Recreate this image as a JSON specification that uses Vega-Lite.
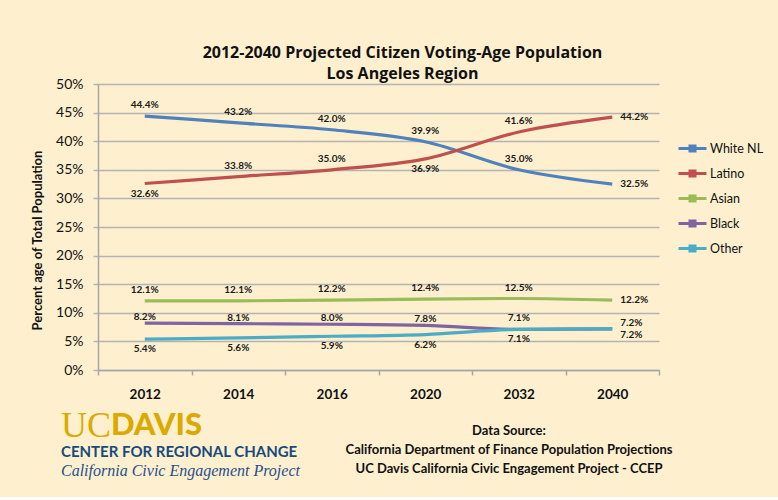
{
  "$schema": "https://vega.github.io/schema/vega-lite/v6.json",
  "background": "#fef0cf",
  "padding": {"left": 31, "top": 45, "right": 18, "bottom": 18},
  "spacing": 7,
  "config": {
    "font": "Lato",
    "view": {"stroke": null},
    "legend": {"padding": 0}
  },
  "vconcat": [
    {
      "title": {
        "text": ["2012-2040 Projected Citizen Voting-Age Population", "Los Angeles Region"],
        "font": "Open Sans", "fontSize": 16, "fontWeight": "bold", "color": "#111111",
        "anchor": "middle", "frame": "group", "dx": 24, "lineHeight": 21, "offset": -5
      },
      "width": 561,
      "height": 286,
      "data": {"values": [
        {"series": "White NL", "year": "2012", "share": 0.444},
        {"series": "White NL", "year": "2014", "share": 0.432},
        {"series": "White NL", "year": "2016", "share": 0.420},
        {"series": "White NL", "year": "2020", "share": 0.399},
        {"series": "White NL", "year": "2032", "share": 0.350},
        {"series": "White NL", "year": "2040", "share": 0.325},
        {"series": "Latino", "year": "2012", "share": 0.326},
        {"series": "Latino", "year": "2014", "share": 0.338},
        {"series": "Latino", "year": "2016", "share": 0.350},
        {"series": "Latino", "year": "2020", "share": 0.369},
        {"series": "Latino", "year": "2032", "share": 0.416},
        {"series": "Latino", "year": "2040", "share": 0.442},
        {"series": "Asian", "year": "2012", "share": 0.121},
        {"series": "Asian", "year": "2014", "share": 0.121},
        {"series": "Asian", "year": "2016", "share": 0.122},
        {"series": "Asian", "year": "2020", "share": 0.124},
        {"series": "Asian", "year": "2032", "share": 0.125},
        {"series": "Asian", "year": "2040", "share": 0.122},
        {"series": "Black", "year": "2012", "share": 0.082},
        {"series": "Black", "year": "2014", "share": 0.081},
        {"series": "Black", "year": "2016", "share": 0.080},
        {"series": "Black", "year": "2020", "share": 0.078},
        {"series": "Black", "year": "2032", "share": 0.071},
        {"series": "Black", "year": "2040", "share": 0.072},
        {"series": "Other", "year": "2012", "share": 0.054},
        {"series": "Other", "year": "2014", "share": 0.056},
        {"series": "Other", "year": "2016", "share": 0.059},
        {"series": "Other", "year": "2020", "share": 0.062},
        {"series": "Other", "year": "2032", "share": 0.071},
        {"series": "Other", "year": "2040", "share": 0.072}
      ]},
      "encoding": {
        "x": {
          "field": "year", "type": "ordinal",
          "scale": {"type": "band", "paddingInner": 0, "paddingOuter": 0},
          "axis": {
            "title": null, "labelAngle": 0, "labelFont": "Lato", "labelFontSize": 13.5,
            "labelFontWeight": "bold", "labelColor": "#111111", "tickBand": "extent",
            "tickSize": 5, "tickColor": "#a6a6a6", "tickWidth": 1.5, "domainColor": "#a6a6a6",
            "domainWidth": 1.5, "labelPadding": 12, "grid": false
          }
        },
        "y": {
          "field": "share", "type": "quantitative",
          "scale": {"domain": [0, 0.5]},
          "axis": {
            "format": ".0%", "values": [0, 0.05, 0.1, 0.15, 0.2, 0.25, 0.3, 0.35, 0.4, 0.45, 0.5],
            "title": "Percent age of Total Population", "titleFont": "Lato", "titleFontSize": 13,
            "titleFontWeight": "bold", "titleColor": "#111111", "titlePadding": 11, "titleY": 156,
            "labelFont": "Lato", "labelFontSize": 14, "labelColor": "#111111", "labelPadding": 10,
            "tickSize": 5, "tickColor": "#b3b3b3", "tickWidth": 1.5, "grid": true,
            "gridColor": "#b3b3b3", "gridWidth": 1.5, "domainColor": "#a6a6a6", "domainWidth": 1.5
          }
        }
      },
      "layer": [
        {
          "mark": {"type": "line", "strokeWidth": 3.2, "interpolate": "monotone"},
          "encoding": {
            "color": {
              "field": "series", "type": "nominal",
              "scale": {
                "domain": ["White NL", "Latino", "Asian", "Black", "Other"],
                "range": ["#4f81bd", "#c0504d", "#9bbb59", "#8064a2", "#4bacc6"]
              },
              "legend": {
                "orient": "none", "legendX": 579, "legendY": 49, "title": null,
                "symbolType": "M-1,0H1M-0.18,-0.18H0.18V0.18H-0.18Z", "symbolSize": 784,
                "symbolStrokeWidth": 3, "labelFont": "Lato", "labelFontSize": 12.5,
                "labelColor": "#111111", "rowPadding": -3, "labelOffset": 2
              }
            }
          }
        },
        {
          "transform": [{"filter": "(datum.series == 'White NL' && datum.year != '2040') || (datum.series == 'Latino' && (datum.year == '2014' || datum.year == '2016' || datum.year == '2032')) || (datum.series == 'Asian' && datum.year != '2040') || (datum.series == 'Black' && datum.year == '2032')"}],
          "mark": {"type": "text", "font": "Lato", "fontSize": 10, "fontWeight": "bold", "color": "#1a1a1a", "baseline": "middle", "dy": -11},
          "encoding": {"text": {"field": "share", "type": "quantitative", "format": ".1%"}}
        },
        {
          "transform": [{"filter": "datum.series == 'Black' && datum.year != '2040' && datum.year != '2032'"}],
          "mark": {"type": "text", "font": "Lato", "fontSize": 10, "fontWeight": "bold", "color": "#1a1a1a", "baseline": "middle", "dy": -6},
          "encoding": {"text": {"field": "share", "type": "quantitative", "format": ".1%"}}
        },
        {
          "transform": [{"filter": "(datum.series == 'Latino' && (datum.year == '2012' || datum.year == '2020')) || (datum.series == 'Other' && datum.year != '2040')"}],
          "mark": {"type": "text", "font": "Lato", "fontSize": 10, "fontWeight": "bold", "color": "#1a1a1a", "baseline": "middle", "dy": 10},
          "encoding": {"text": {"field": "share", "type": "quantitative", "format": ".1%"}}
        },
        {
          "transform": [{"filter": "datum.year == '2040' && (datum.series == 'White NL' || datum.series == 'Latino' || datum.series == 'Asian')"}],
          "mark": {"type": "text", "font": "Lato", "fontSize": 10, "fontWeight": "bold", "color": "#1a1a1a", "baseline": "middle", "align": "left", "dx": 8},
          "encoding": {"text": {"field": "share", "type": "quantitative", "format": ".1%"}}
        },
        {
          "transform": [{"filter": "datum.year == '2040' && datum.series == 'Other'"}],
          "mark": {"type": "text", "font": "Lato", "fontSize": 10, "fontWeight": "bold", "color": "#1a1a1a", "baseline": "middle", "align": "left", "dx": 8, "dy": -6},
          "encoding": {"text": {"field": "share", "type": "quantitative", "format": ".1%"}}
        },
        {
          "transform": [{"filter": "datum.year == '2040' && datum.series == 'Black'"}],
          "mark": {"type": "text", "font": "Lato", "fontSize": 10, "fontWeight": "bold", "color": "#1a1a1a", "baseline": "middle", "align": "left", "dx": 8, "dy": 6},
          "encoding": {"text": {"field": "share", "type": "quantitative", "format": ".1%"}}
        }
      ]
    },
    {
      "width": 411,
      "height": 38,
      "data": {"values": [
        {"part": "uc", "block": "logo", "row": "1", "text": "UC"},
        {"part": "davis", "block": "logo", "row": "1", "text": "DAVIS"},
        {"part": "center", "block": "logo", "row": "2", "text": "CENTER FOR REGIONAL CHANGE"},
        {"part": "ccep", "block": "logo", "row": "3", "text": "California Civic Engagement Project"},
        {"part": "src", "block": "source", "row": "1", "text": "Data Source:"},
        {"part": "src", "block": "source", "row": "2", "text": "California Department of Finance Population Projections"},
        {"part": "src", "block": "source", "row": "3", "text": "UC Davis California Civic Engagement Project  - CCEP"}
      ]},
      "encoding": {
        "x": {"field": "block", "type": "nominal", "scale": {"type": "point", "domain": ["logo", "source"], "padding": 0}, "axis": null},
        "y": {"field": "row", "type": "ordinal", "scale": {"type": "point", "domain": ["1", "2", "3"], "padding": 0}, "axis": null},
        "text": {"field": "text", "type": "nominal"}
      },
      "layer": [
        {
          "transform": [{"filter": "datum.part == 'uc'"}],
          "mark": {"type": "text", "font": "Liberation Serif", "fontSize": 36, "color": "#daaa00", "align": "left", "baseline": "middle", "dx": -37, "dy": -5}
        },
        {
          "transform": [{"filter": "datum.part == 'davis'"}],
          "mark": {"type": "text", "font": "Lato", "fontWeight": 900, "fontSize": 31, "color": "#daaa00", "align": "left", "baseline": "middle", "dx": 13, "dy": -5}
        },
        {
          "transform": [{"filter": "datum.part == 'center'"}],
          "mark": {"type": "text", "font": "Lato", "fontWeight": "bold", "fontSize": 15, "color": "#174a7c", "align": "left", "baseline": "middle", "dx": -37, "dy": 2}
        },
        {
          "transform": [{"filter": "datum.part == 'ccep'"}],
          "mark": {"type": "text", "font": "Liberation Serif", "fontStyle": "italic", "fontSize": 16, "color": "#1e4e8c", "align": "left", "baseline": "middle", "dx": -37, "dy": 2}
        },
        {
          "transform": [{"filter": "datum.part == 'src'"}],
          "mark": {"type": "text", "font": "Lato", "fontWeight": "bold", "fontSize": 13, "color": "#111111", "align": "center", "baseline": "middle"}
        }
      ]
    }
  ]
}
